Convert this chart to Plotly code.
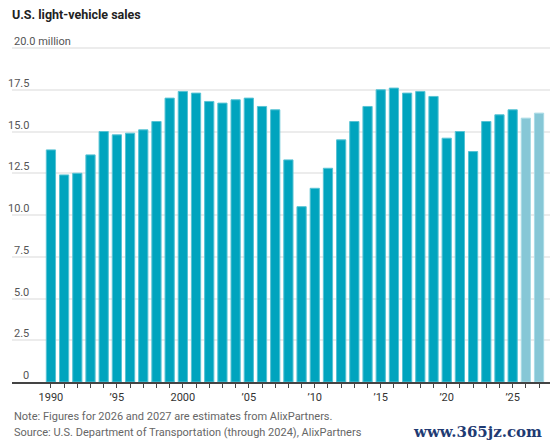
import plotly.graph_objects as go

# -------------------------
# Data (millions of vehicles)
# -------------------------
years = list(range(1990, 2028))
sales = [
    13.9, 12.4, 12.5, 13.6, 15.0, 14.8, 14.9, 15.1, 15.6, 17.0,
    17.4, 17.3, 16.8, 16.7, 16.9, 17.0, 16.5, 16.3, 13.3, 10.5,
    11.6, 12.8, 14.5, 15.6, 16.5, 17.5, 17.6, 17.3, 17.4, 17.1,
    14.6, 15.0, 13.8, 15.6, 16.0, 16.3, 15.8, 16.1,
]
estimate_years = [2026, 2027]

y_ticks = [0, 2.5, 5, 7.5, 10, 12.5, 15, 17.5, 20]
y_labels = ["0", "2.5", "5.0", "7.5", "10.0", "12.5", "15.0", "17.5", "20.0 million"]

x_label_years = [1990, 1995, 2000, 2005, 2010, 2015, 2020, 2025]
x_labels = ["1990", "’95", "2000", "’05", "’10", "’15", "’20", "’25"]

MAIN = "#00a4be"
EST = "#86c7d6"
FONT = "Liberation Sans Narrow, Roboto, Arial, sans-serif"

colors = [EST if y in estimate_years else MAIN for y in years]
edge = ["#a9dbe5" if y in estimate_years else "#58c3d4" for y in years]

fig = go.Figure()

fig.add_trace(go.Bar(
    x=years,
    y=sales,
    marker=dict(color=colors, line=dict(color=edge, width=1)),
    hoverinfo="x+y",
))

# y labels sit above the gridlines
for v, lab in zip(y_ticks, y_labels):
    if lab.endswith("million"):
        fig.add_annotation(
            x=0, xref="paper", xanchor="left",
            y=v, yref="y", yanchor="bottom", yshift=-2,
            text=lab, showarrow=False,
            font=dict(size=11, color="#555555", family=FONT),
        )
    else:
        fig.add_annotation(
            x=19 / 538, xref="paper", xanchor="right",
            y=v, yref="y", yanchor="bottom", yshift=-2,
            text=lab, showarrow=False,
            font=dict(size=11, color="#555555", family=FONT),
        )

fig.add_annotation(
    x=0, xref="paper", xanchor="left",
    y=-0.103, yref="paper", yanchor="middle",
    text="Note: Figures for 2026 and 2027 are estimates from AlixPartners.",
    showarrow=False, font=dict(size=11, color="#666666", family=FONT),
)
fig.add_annotation(
    x=0, xref="paper", xanchor="left",
    y=-0.148, yref="paper", yanchor="middle",
    text="Source: U.S. Department of Transportation (through 2024), AlixPartners",
    showarrow=False, font=dict(size=11, color="#666666", family=FONT),
)
fig.add_annotation(
    x=1, xref="paper", xanchor="right", xshift=-6,
    y=-0.148, yref="paper", yanchor="middle",
    text="<b>www.365jz.com</b>",
    showarrow=False, font=dict(size=15, color="#1f3b73", family="DejaVu Serif"),
)

fig.update_layout(
    width=550,
    height=445,
    margin=dict(l=12, r=0, t=42.5, b=63),
    paper_bgcolor="white",
    plot_bgcolor="white",
    showlegend=False,
    bargap=0.3,
    title=dict(
        text="<b>U.S. light-vehicle sales</b>",
        x=12 / 550, xref="container", xanchor="left",
        y=1 - 15 / 445, yref="container", yanchor="middle",
        font=dict(size=12.5, color="#222222", family=FONT),
    ),
    xaxis=dict(
        range=[1987.05, 2027.83],
        tickvals=years,
        ticktext=[x_labels[x_label_years.index(y)] if y in x_label_years else "" for y in years],
        ticks="outside",
        ticklen=4,
        tickcolor="#444444",
        showline=True,
        linecolor="#444444",
        linewidth=1.5,
        showgrid=False,
        tickfont=dict(size=11, color="#333333", family=FONT),
    ),
    yaxis=dict(
        range=[0, 20.3],
        tickvals=y_ticks,
        showticklabels=False,
        showgrid=True,
        gridcolor="#ececec",
        gridwidth=1.5,
        zeroline=False,
    ),
)

fig.write_html(
    "out.html",
    config={"displayModeBar": False},
    post_script="document.body.style.margin='0';",
)
